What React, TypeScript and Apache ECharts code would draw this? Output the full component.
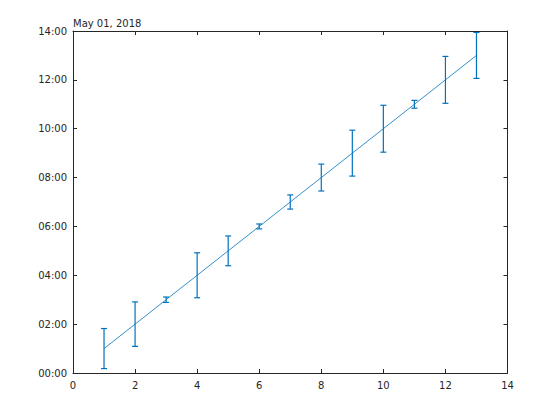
import React, { useEffect, useRef } from "react";
import * as echarts from "echarts";

const xValues = [1, 2, 3, 4, 5, 6, 7, 8, 9, 10, 11, 12, 13];
// hours after May 01, 2018 00:00
const yHours = [1, 2, 3, 4, 5, 6, 7, 8, 9, 10, 11, 12, 13];
// error (hours)
const errHours = [0.82, 0.91, 0.11, 0.92, 0.61, 0.1, 0.29, 0.55, 0.94, 0.96, 0.16, 0.96, 0.94];
const dateLabel = "May 01, 2018";

const BLUE = "#0072BD";
const AX = "#262626";
const FONT = "DejaVu Sans";

function fmtHour(v: number) {
  const h = Math.round(v);
  return (h < 10 ? "0" : "") + h + ":00";
}

export default function App() {
  const ref = useRef<HTMLDivElement>(null);
  useEffect(() => {
    const chart = echarts.init(ref.current!, null, { renderer: "svg" });
    const lineData = xValues.map((x, i) => [x, yHours[i]]);
    const errData = xValues.map((x, i) => [x, yHours[i] - errHours[i], yHours[i] + errHours[i]]);
    const grid = { left: 73, right: 52.5, top: 31, bottom: 47 };
    chart.setOption({
      animation: false,
      backgroundColor: "#ffffff",
      grid,
      textStyle: { fontFamily: FONT },
      xAxis: [
        {
          type: "value", min: 0, max: 14, interval: 2,
          axisLine: { show: true, onZero: false, lineStyle: { color: AX, width: 1 } },
          axisTick: { show: true, inside: true, length: 4, lineStyle: { color: AX } },
          axisLabel: { color: AX, fontSize: 10, fontFamily: FONT, margin: 7 },
          splitLine: { show: false },
        },
        {
          type: "value", min: 0, max: 14, interval: 2, position: "top",
          axisLine: { show: true, onZero: false, lineStyle: { color: AX, width: 1 } },
          axisTick: { show: true, inside: true, length: 4, lineStyle: { color: AX } },
          axisLabel: { show: false },
          splitLine: { show: false },
        },
      ],
      yAxis: [
        {
          type: "value", min: 0, max: 14, interval: 2,
          axisLine: { show: true, onZero: false, lineStyle: { color: AX, width: 1 } },
          axisTick: { show: true, inside: true, length: 4, lineStyle: { color: AX } },
          axisLabel: { color: AX, fontSize: 10, fontFamily: FONT, margin: 6, formatter: fmtHour },
          splitLine: { show: false },
        },
        {
          type: "value", min: 0, max: 14, interval: 2, position: "right",
          axisLine: { show: true, onZero: false, lineStyle: { color: AX, width: 1 } },
          axisTick: { show: true, inside: true, length: 4, lineStyle: { color: AX } },
          axisLabel: { show: false },
          splitLine: { show: false },
        },
      ],
      graphic: [
        {
          type: "text", left: 73, top: 18,
          style: { text: dateLabel, fill: AX, font: `10px "${FONT}"` },
        },
      ],
      series: [
        {
          type: "line", data: lineData, symbol: "none",
          lineStyle: { color: BLUE, width: 0.8 }, z: 3,
        },
        {
          type: "custom", data: errData, z: 4,
          renderItem: (params: any, api: any) => {
            const x = api.value(0);
            const lo = api.coord([x, api.value(1)]);
            const hi = api.coord([x, api.value(2)]);
            const cw = 3;
            const style = { stroke: BLUE, lineWidth: 1.2 };
            return {
              type: "group",
              children: [
                { type: "line", shape: { x1: lo[0], y1: lo[1], x2: hi[0], y2: hi[1] }, style },
                { type: "line", shape: { x1: lo[0] - cw, y1: lo[1], x2: lo[0] + cw, y2: lo[1] }, style },
                { type: "line", shape: { x1: hi[0] - cw, y1: hi[1], x2: hi[0] + cw, y2: hi[1] }, style },
              ],
            };
          },
        },
      ],
    });
    return () => chart.dispose();
  }, []);
  return <div ref={ref} style={{ position: "fixed", left: 0, top: 0, width: 560, height: 420 }} />;
}
